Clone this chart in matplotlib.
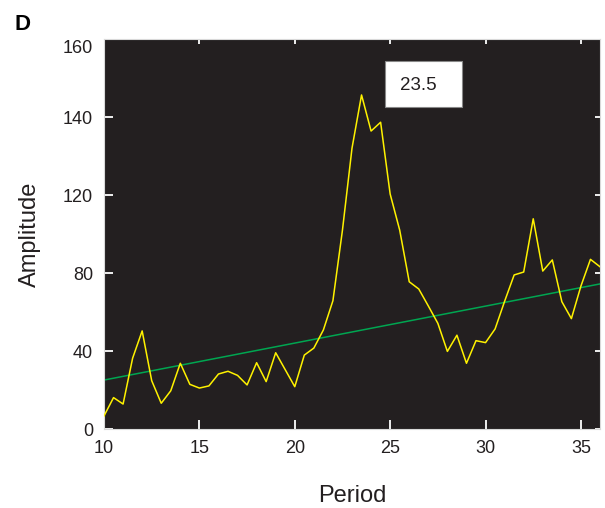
import matplotlib
matplotlib.use("Agg")
import matplotlib.pyplot as plt
from matplotlib.patches import Rectangle
import numpy as np

plt.rcParams['font.family'] = ['Liberation Sans', 'DejaVu Sans']

# Data
period = [10 + 0.5 * i for i in range(53)]
amplitude = [6.7, 16.1, 12.8, 36.3, 50.3, 24.8, 13.2, 19.6, 33.7, 22.9,
             21.0, 22.1, 28.2, 29.6, 27.5, 22.6, 34.0, 24.3, 39.1, 30.4,
             21.7, 37.9, 41.5, 50.8, 65.8, 102.0, 144.0, 171.3, 152.8, 157.3,
             120.5, 102.0, 75.5, 71.8, 63.1, 54.2, 39.8, 48.1, 33.7, 45.3,
             44.3, 51.3, 65.5, 79.0, 80.5, 107.8, 81.0, 86.7, 65.3, 56.6,
             73.3, 87.0, 83.2]
trend_x = [10, 36]
trend_y = [25.1, 74.4]

xticks = [10, 15, 20, 25, 30, 35]
yticks = [0, 40, 80, 120, 160]
ytick_labels = ['0', '40', '80', '120', '140']
extra_label = '160'
extra_label_y = 195
box_text = '23.5'

fig = plt.figure(figsize=(6.05, 5.08), dpi=100)
ax = fig.add_axes([104/605, 79/508, 496/605, 390/508])
ax.set_facecolor('#231f20')

ax.plot(trend_x, trend_y, color='#00a651', lw=1.1, zorder=2)
ax.plot(period, amplitude, color='#fff200', lw=1.1, zorder=3)

ax.set_xlim(10, 36)
ax.set_ylim(0, 200)
ax.set_xticks(xticks)
ax.set_yticks(yticks)
ax.set_yticklabels(ytick_labels)

ax.tick_params(axis='both', which='major', direction='in', color='white',
               width=1.3, labelsize=13, labelcolor='#231f20')
ax.tick_params(axis='x', length=6.5, pad=8)
ax.tick_params(axis='y', length=6.5, pad=8)
ax.tick_params(top=True, right=True)
for t in ax.xaxis.get_major_ticks():
    t.tick2line.set_markersize(3.6)
for t in ax.yaxis.get_major_ticks():
    t.tick2line.set_markersize(3.6)

for s in ax.spines.values():
    s.set_color('#d9d9d9')
    s.set_linewidth(0.8)

ax.annotate(extra_label, xy=(0, extra_label_y), xycoords=('axes fraction', 'data'),
            xytext=(-8, 0), textcoords='offset points', ha='right', va='center',
            fontsize=13, color='#231f20')

ax.add_patch(Rectangle((24.73, 165.1), 4.03, 23.6, facecolor='white',
                       edgecolor='#888888', lw=0.8, zorder=4))
ax.text(26.5, 176.2, box_text, ha='center', va='center', fontsize=13.5,
        color='#231f20', zorder=5)

ax.set_xlabel('Period', fontsize=17, color='#231f20', labelpad=20)
ax.set_ylabel('Amplitude', fontsize=17, color='#231f20', labelpad=16)

fig.text(15/605, 1 - 24/508, 'D', fontsize=16, fontweight='bold',
         ha='left', va='center', color='black')

fig.savefig('out.png', dpi=100)
